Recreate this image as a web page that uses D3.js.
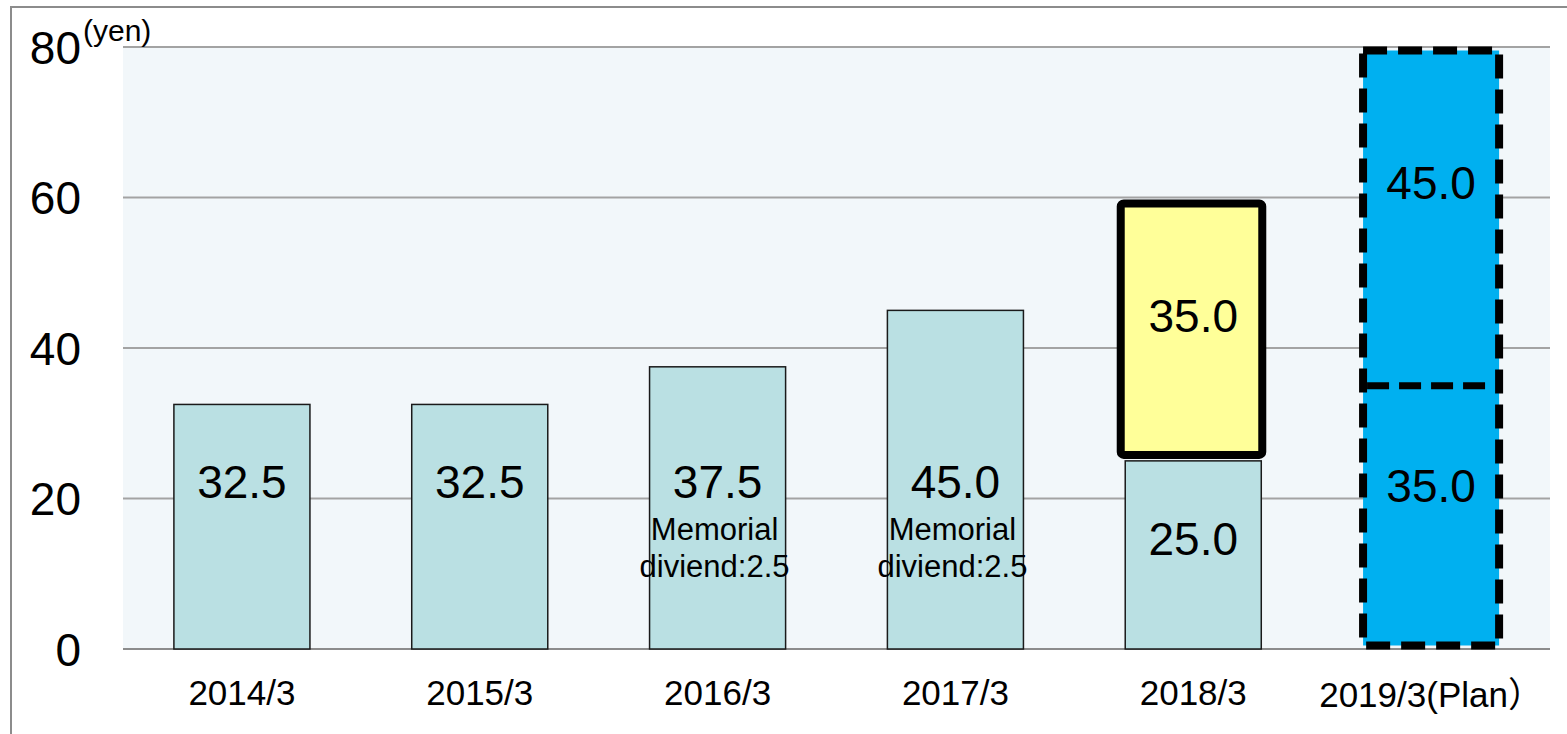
<!DOCTYPE html>
<html>
<head>
<meta charset="utf-8">
<script src="https://cdn.jsdelivr.net/npm/d3@7"></script>
<style>
  body { margin: 0; background: #fff; }
  text { font-family: Arial, "Liberation Sans", "Noto Sans CJK JP", sans-serif; fill: #000; }
</style>
</head>
<body>
<div class="dividend-chart"></div>
<script>
// fiscal years
var categories = ["2014/3", "2015/3", "2016/3", "2017/3", "2018/3", "2019/3(Plan\uFF09"];
// lower segment of each bar (yen)
var lowerValues = [32.5, 32.5, 37.5, 45.0, 25.0, 35.0];
// upper segment (2018 special, 2019 plan)
var upperValues = [0, 0, 0, 0, 35.0, 45.0];
var notes = ["", "", "Memorial\ndiviend:2.5", "Memorial\ndiviend:2.5", "", ""];
var yTicks = [0, 20, 40, 60, 80];

var width = 1567, height = 734;
var margin = {top: 47, left: 123, bottom: 85, right: 17};

var svg = d3.select(".dividend-chart").append("svg")
  .attr("width", width)
  .attr("height", height);

// outer frame
svg.append("rect")
  .attr("x", 11).attr("y", 7)
  .attr("width", width + 20).attr("height", height + 20)
  .attr("fill", "none")
  .attr("stroke", "#8c8c8c")
  .attr("stroke-width", 2);

var x = d3.scaleBand()
  .domain(categories)
  .range([margin.left, width - margin.right])
  .paddingInner(0.428)
  .paddingOuter(0.214);

var y = d3.scaleLinear()
  .domain([0, 80])
  .range([height - margin.bottom, margin.top]);

// plot background
svg.append("rect")
  .attr("x", margin.left).attr("y", y(80))
  .attr("width", width - margin.right - margin.left)
  .attr("height", y(0) - y(80))
  .attr("fill", "#f2f7fa");

// gridlines
svg.append("g")
  .selectAll("line")
  .data(yTicks)
  .enter()
  .append("line")
  .attr("x1", margin.left).attr("x2", width - margin.right)
  .attr("y1", function(d) { return y(d); })
  .attr("y2", function(d) { return y(d); })
  .attr("stroke", function(d) { return d === 0 ? "#8c8c8c" : "#a3a3a3"; })
  .attr("stroke-width", 2);

// y tick labels
svg.append("g")
  .selectAll("text")
  .data(yTicks)
  .enter()
  .append("text")
  .attr("x", 81)
  .attr("y", function(d) { return y(d) + 16.5; })
  .attr("text-anchor", "end")
  .style("font-size", "46px")
  .text(function(d) { return d; });

svg.append("text")
  .attr("x", 83).attr("y", 41)
  .style("font-size", "30px")
  .text("(yen)");

var bw = x.bandwidth();

// ordinary bars (teal)
svg.append("g")
  .selectAll("rect")
  .data(lowerValues.slice(0, 5))
  .enter()
  .append("rect")
  .attr("x", function(d, i) { return x(categories[i]); })
  .attr("y", function(d) { return y(d); })
  .attr("width", bw)
  .attr("height", function(d) { return y(0) - y(d); })
  .attr("fill", "#bae0e3")
  .attr("stroke", "#1a1a1a")
  .attr("stroke-width", 1.5);

// 2018 upper segment (yellow, bold outline)
var c18 = categories[4];
svg.append("rect")
  .attr("x", x(c18) - 4.5)
  .attr("y", y(lowerValues[4] + upperValues[4]) + 6)
  .attr("width", bw + 5.5)
  .attr("height", y(lowerValues[4]) - y(lowerValues[4] + upperValues[4]) - 12)
  .attr("rx", 3)
  .attr("fill", "#ffff99")
  .attr("stroke", "#000")
  .attr("stroke-width", 8);

// 2019 plan (blue, dashed)
var c19 = categories[5];
var planTop = lowerValues[5] + upperValues[5];
svg.append("rect")
  .attr("x", x(c19))
  .attr("y", y(planTop) + 3.5)
  .attr("width", bw)
  .attr("height", y(0) - y(planTop) - 7)
  .attr("fill", "#00b0f0")
  .attr("stroke", "#000")
  .attr("stroke-width", 8)
  .attr("stroke-dasharray", "24,11");

svg.append("line")
  .attr("x1", x(c19) + 4).attr("x2", x(c19) + bw - 4)
  .attr("y1", y(lowerValues[5])).attr("y2", y(lowerValues[5]))
  .attr("stroke", "#000")
  .attr("stroke-width", 7)
  .attr("stroke-dasharray", "22,10");

// value labels
var labels = [];
lowerValues.forEach(function(v, i) {
  var ly;
  if (i < 4) ly = y(20) - 1;
  else if (i === 4) ly = (y(0) + y(v)) / 2;
  else ly = y(20) + 3;
  labels.push({x: x(categories[i]) + bw / 2, y: ly, t: v.toFixed(1)});
});
upperValues.forEach(function(v, i) {
  if (!v) return;
  var top = lowerValues[i] + v;
  var ly = i === 4 ? (y(lowerValues[i]) + y(top)) / 2 + 3 : y(60) + 1;
  labels.push({x: x(categories[i]) + bw / 2, y: ly, t: v.toFixed(1)});
});

svg.append("g")
  .selectAll("text")
  .data(labels)
  .enter()
  .append("text")
  .attr("x", function(d) { return d.x; })
  .attr("y", function(d) { return d.y; })
  .attr("text-anchor", "middle")
  .style("font-size", "46px")
  .text(function(d) { return d.t; });

// memorial dividend notes
notes.forEach(function(n, i) {
  if (!n) return;
  var t = svg.append("text")
    .attr("text-anchor", "middle")
    .style("font-size", "31px");
  n.split("\n").forEach(function(line, k) {
    t.append("tspan")
      .attr("x", x(categories[i]) + bw / 2 - 3)
      .attr("y", 540 + k * 37)
      .text(line);
  });
});

// x labels
svg.append("g")
  .selectAll("text")
  .data(categories)
  .enter()
  .append("text")
  .attr("x", function(d) { return x(d) + bw / 2; })
  .attr("y", function(d, i) { return i === 5 ? 707 : 705; })
  .attr("text-anchor", "middle")
  .style("font-size", "35px")
  .text(function(d) { return d; });
</script>
</body>
</html>
